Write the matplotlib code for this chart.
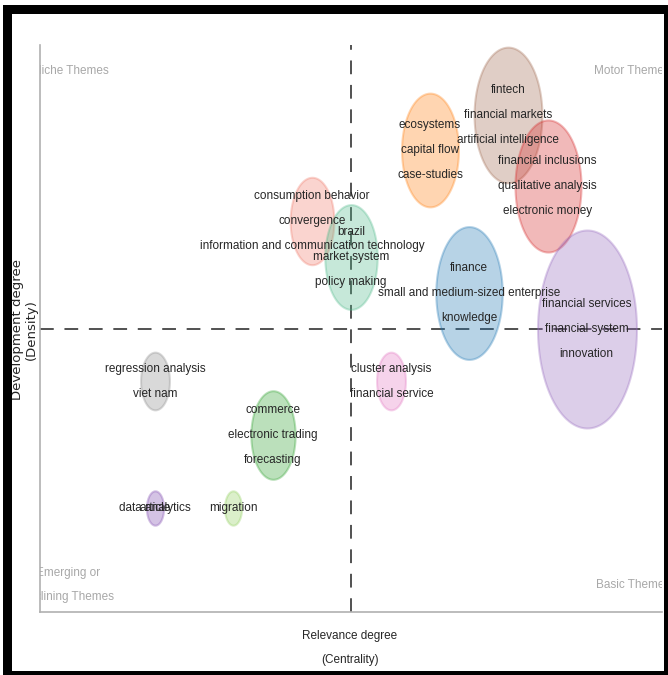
import matplotlib
matplotlib.use("Agg")
import matplotlib.pyplot as plt
import numpy as np
from matplotlib.path import Path
from matplotlib.patches import Rectangle

# ---------------- data ----------------
cluster_labels = [
    ["fintech", "financial markets", "artificial intelligence"],
    ["ecosystems", "capital flow", "case-studies"],
    ["financial inclusions", "qualitative analysis", "electronic money"],
    ["finance", "small and medium-sized enterprise", "knowledge"],
    ["financial services", "financial system", "innovation"],
    ["cluster analysis", "financial service"],
    ["consumption behavior", "convergence", "information and communication technology"],
    ["brazil", "market system", "policy making"],
    ["regression analysis", "viet nam"],
    ["commerce", "electronic trading", "forecasting"],
    ["data analytics"],
    ["article"],
    ["migration"],
]
centrality = [7.53, 6.27, 8.16, 6.90, 8.79, 5.65, 4.37, 5.00, 1.85, 3.74, 1.85, 1.85, 3.11]
density    = [8.77, 8.15, 7.51, 5.63, 4.99, 4.07, 6.90, 6.26, 4.07, 3.12, 1.83, 1.83, 1.83]
frequency  = [94, 66, 89, 90, 200, 17, 39, 56, 17, 40, 6, 6, 6]
colors = ["#a0694f", "#ff7f0e", "#d62728", "#1f77b4", "#9467bd", "#e377c2",
          "#f07a6a", "#4fb98a", "#8a8a8a", "#2ca02c", "#9467bd", "#9467bd", "#8fcf5a"]

quadrant_names = ["Niche Themes", "Motor Themes", "Emerging or\ndeclining Themes", "Basic Themes"]
quadrant_x = [-0.12, 10.13, 0.45, 10.13]
quadrant_y = [9.55, 9.55, 0.48, 0.47]
quadrant_ha = ["left", "right", "center", "right"]

x_title = ["Relevance degree", "(Centrality)"]
y_title = ["Development degree", "(Density)"]

# ---------------- figure ----------------
W, H = 668, 675
fig = plt.figure(figsize=(W / 100, H / 100), dpi=100)
fig.patch.set_facecolor("white")

font = ["Liberation Sans", "DejaVu Sans"]
fs = 8.5

ax = fig.add_axes([40 / W, (H - 612) / H, (662 - 40) / W, (612 - 45) / H])
ax.set_xlim(0, 10)
ax.set_ylim(0, 10)
ax.set_xticks([])
ax.set_yticks([])
for s in ["top", "right"]:
    ax.spines[s].set_visible(False)
for s in ["left", "bottom"]:
    ax.spines[s].set_color("#b0b0b0")
    ax.spines[s].set_linewidth(1.2)

xmid = sum(ax.get_xlim()) / 2
ymid = sum(ax.get_ylim()) / 2
ax.axvline(xmid, color="#222222", lw=1.1, ls=(0, (9, 7)), zorder=1)
ax.axhline(ymid, color="#222222", lw=1.1, ls=(0, (9, 7)), zorder=1, clip_on=False)

# elliptical marker (width : height = 1 : 2)
t = np.linspace(0, 2 * np.pi, 120)
verts = np.column_stack([0.5 * np.cos(t), np.sin(t)])
ell = Path(verts, closed=True)

alphas = [0.32] * len(centrality)
alphas[10] = 0.22
alphas[11] = 0.22
for i in range(len(centrality)):
    ax.scatter([centrality[i]], [density[i]], s=[101.6 * frequency[i]], marker=ell,
               facecolor=colors[i], alpha=alphas[i], edgecolor=colors[i], linewidth=1.5, zorder=2)

for i, labs in enumerate(cluster_labels):
    n = len(labs)
    for j, lab in enumerate(labs):
        off = -(j - (n - 1) / 2) * 18.0
        ax.annotate(lab, (centrality[i], density[i]), xytext=(0, off), textcoords="offset points",
                    ha="center", va="center", fontsize=fs, color="#262626",
                    family=font, zorder=4)

for name, qx, qy, ha in zip(quadrant_names, quadrant_x, quadrant_y, quadrant_ha):
    ax.text(qx, qy, name, ha=ha, va="center", fontsize=fs, color="#a8a8a8",
            family=font, clip_on=True, linespacing=2.35, zorder=3, multialignment="center")

fig.text(350 / W, 1 - 636 / H, x_title[0], ha="center", va="center", fontsize=fs,
         color="#262626", family=font)
fig.text(350 / W, 1 - 660 / H, x_title[1], ha="center", va="center", fontsize=fs,
         color="#262626", family=font)
fig.text(18 / W, 1 - 330 / H, y_title[0], ha="center", va="center", fontsize=9.5,
         color="#262626", family="DejaVu Sans", rotation=90)
fig.text(31.5 / W, 1 - 330 / H, y_title[1], ha="center", va="center", fontsize=9.5,
         color="#262626", family="DejaVu Sans", rotation=90)

# black frame
for (x0, y0, w, h) in [(3, 5, 662, 9), (3, 5, 9, 670), (664, 5, 4, 670), (3, 671, 665, 4)]:
    fig.patches.append(Rectangle((x0 / W, 1 - (y0 + h) / H), w / W, h / H,
                                 transform=fig.transFigure, facecolor="black",
                                 edgecolor="none", zorder=10))

fig.savefig("out.png", dpi=100)
